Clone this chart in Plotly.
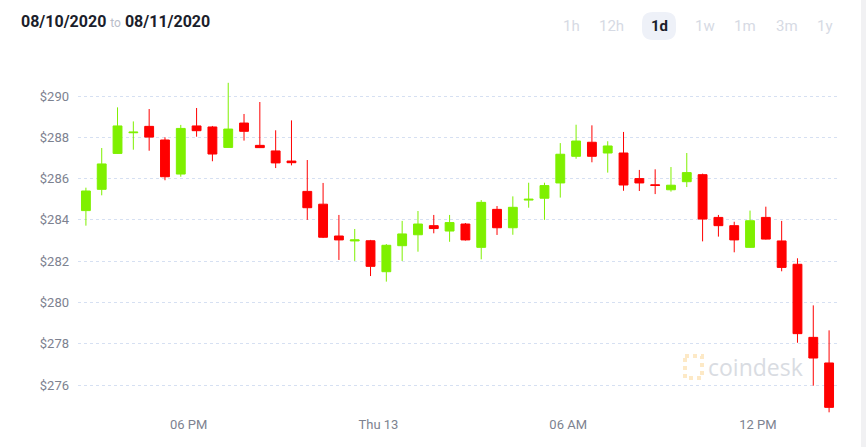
import pandas as pd
import plotly.graph_objects as go

# ---- data (30-minute candles, Aug 12 14:30 -> Aug 13 14:30, 2020) ----
start_time = "2020-08-12 14:45"
n_candles = 48
times = pd.date_range(start_time, periods=n_candles, freq="30min")

open_ = [284.45, 285.48, 287.22, 288.22, 288.53, 287.87, 286.22, 288.55, 288.50, 287.51,
         288.69, 287.61, 287.34, 286.85, 285.38, 284.76, 283.22, 282.98, 282.99, 281.49,
         282.75, 283.28, 283.72, 283.46, 283.80, 282.67, 284.51, 283.62, 284.96, 285.05,
         285.79, 287.08, 287.76, 287.24, 287.24, 286.00, 285.70, 285.46, 285.85, 286.19,
         284.12, 283.72, 282.67, 284.12, 282.98, 281.85, 278.31, 277.07]
high = [285.56, 287.48, 289.45, 288.77, 289.37, 288.00, 288.60, 289.42, 288.55, 290.64,
        289.13, 289.71, 288.34, 288.82, 286.90, 285.79, 284.24, 283.56, 283.03, 282.83,
        283.95, 284.43, 284.24, 284.24, 283.85, 284.96, 284.67, 285.14, 285.80, 285.80,
        287.72, 288.61, 288.58, 287.81, 288.26, 286.42, 286.45, 286.56, 287.24, 286.24,
        284.24, 283.91, 284.45, 284.64, 283.95, 282.14, 279.86, 278.65]
low = [283.72, 285.19, 287.20, 287.40, 287.35, 285.92, 286.09, 288.03, 286.84, 287.51,
       287.84, 287.48, 286.51, 286.64, 284.00, 283.12, 282.06, 282.01, 281.28, 281.01,
       282.01, 282.46, 283.35, 282.94, 283.00, 282.09, 283.27, 283.28, 284.59, 284.00,
       285.08, 286.96, 286.79, 286.29, 285.41, 285.40, 285.25, 285.37, 285.59, 282.96,
       283.19, 282.43, 282.65, 283.05, 281.51, 278.05, 275.97, 274.68]
close = [285.40, 286.71, 288.55, 288.25, 288.01, 286.09, 288.43, 288.32, 287.19, 288.40,
         288.29, 287.50, 286.76, 286.77, 284.59, 283.16, 283.03, 283.03, 281.75, 282.77,
         283.32, 283.80, 283.58, 283.87, 283.03, 284.85, 283.62, 284.61, 285.00, 285.66,
         287.18, 287.82, 287.08, 287.58, 285.69, 285.79, 285.67, 285.68, 286.29, 284.04,
         283.72, 283.03, 283.96, 283.07, 281.70, 278.49, 277.31, 274.92]

x_range = ["2020-08-12 14:30", "2020-08-13 14:30"]
y_range = [274.55, 291.26]
y_ticks = [276, 278, 280, 282, 284, 286, 288, 290]
y_ticktext = ["$276", "$278", "$280", "$282", "$284", "$286", "$288", "$290"]
x_tickvals = ["2020-08-12 18:00", "2020-08-13 00:00", "2020-08-13 06:00", "2020-08-13 12:00"]
x_ticktext = ["06 PM", "Thu 13", "06 AM", "12 PM"]

date_from = "08/10/2020"
date_to = "08/11/2020"
periods = ["1h", "12h", "1d", "1w", "1m", "3m", "1y"]
active_period = "1d"

# ---- layout geometry (pixels) ----
W, H = 866, 447
L, R, T, B = 78, 29, 70, 32
PW, PH = W - L - R, H - T - B


def px(xp):
    return (xp - L) / PW


def py(yp):
    return (H - B - yp) / PH


GREEN = "#7ff000"
RED = "#ff0000"

fig = go.Figure()
fig.add_trace(go.Candlestick(
    x=times, open=open_, high=high, low=low, close=close,
    increasing=dict(line=dict(color=GREEN, width=1), fillcolor=GREEN),
    decreasing=dict(line=dict(color=RED, width=1), fillcolor=RED),
    whiskerwidth=0,
    showlegend=False,
    hoverinfo="skip",
))

font_family = "Roboto, 'Open Sans', sans-serif"

annotations = []
annotations.append(dict(
    xref="paper", yref="paper", x=px(19), y=py(22), xanchor="left", yanchor="middle",
    text=f"<b>{date_from}</b> <span style='color:#b9bdc9;font-size:12px'>to</span> <b>{date_to}</b>",
    showarrow=False, font=dict(family=font_family, size=16, color="#1b1e2b"),
))

period_x = [571, 611, 659, 705, 745, 787, 825]
shapes = []
for p, cx in zip(periods, period_x):
    active = p == active_period
    annotations.append(dict(
        xref="paper", yref="paper", x=px(cx), y=py(26), xanchor="center", yanchor="middle",
        text=f"<b>{p}</b>" if active else p, showarrow=False,
        font=dict(family=font_family, size=15, color="#1b1e2b" if active else "#d6dae4"),
    ))
    if active:
        x0, x1, y0, y1, r = cx - 17, cx + 17, 12, 40, 11
        pts = (f"M {px(x0 + r)},{py(y0)} L {px(x1 - r)},{py(y0)} "
               f"Q {px(x1)},{py(y0)} {px(x1)},{py(y0 + r)} L {px(x1)},{py(y1 - r)} "
               f"Q {px(x1)},{py(y1)} {px(x1 - r)},{py(y1)} L {px(x0 + r)},{py(y1)} "
               f"Q {px(x0)},{py(y1)} {px(x0)},{py(y1 - r)} L {px(x0)},{py(y0 + r)} "
               f"Q {px(x0)},{py(y0)} {px(x0 + r)},{py(y0)} Z")
        shapes.append(dict(type="path", xref="paper", yref="paper", path=pts,
                           fillcolor="#eef1f8", line=dict(width=0), layer="below"))

# watermark
annotations.append(dict(
    xref="paper", yref="paper", x=px(706), y=py(367), xanchor="left", yanchor="middle",
    text="coindesk", showarrow=False,
    font=dict(family="'Open Sans', Roboto, sans-serif", size=23, color="#d9dce2"),
))
shapes.append(dict(type="rect", xref="paper", yref="paper",
                   x0=px(685), x1=px(702), y0=py(356), y1=py(378),
                   line=dict(color="#fde9c6", width=4, dash="dot"), layer="below"))
# right scrollbar strip
shapes.append(dict(type="rect", xref="paper", yref="paper",
                   x0=px(861), x1=px(867), y0=py(-2), y1=py(449),
                   fillcolor="#f1f1f3", line=dict(width=0)))

fig.update_layout(
    width=W, height=H,
    margin=dict(l=L, r=R, t=T, b=B, pad=0),
    paper_bgcolor="white", plot_bgcolor="white",
    boxgap=0.2,
    font=dict(family=font_family, size=13, color="#7d8290"),
    annotations=annotations,
    shapes=shapes,
    xaxis=dict(
        range=x_range, rangeslider=dict(visible=False),
        showgrid=False, zeroline=False, showline=False,
        tickvals=x_tickvals, ticktext=x_ticktext, ticks="",
        tickfont=dict(size=13, color="#7d8290"),
    ),
    yaxis=dict(
        range=y_range, tickvals=y_ticks, ticktext=y_ticktext,
        showgrid=True, gridcolor="#d6e0f2", griddash="dot", gridwidth=1,
        zeroline=False, showline=False, ticks="",
        ticklabelstandoff=8,
        tickfont=dict(size=13, color="#7d8290"),
    ),
    hovermode=False,
)

fig.write_html("out.html")
